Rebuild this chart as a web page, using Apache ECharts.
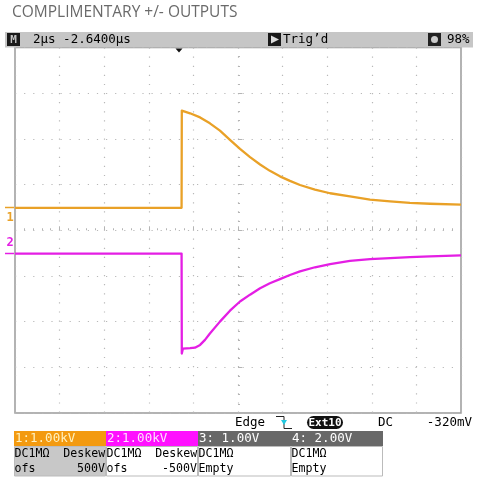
<!DOCTYPE html>
<html><head><meta charset="utf-8">
<script src="https://cdn.jsdelivr.net/npm/echarts@6/dist/echarts.min.js"></script>
<style>html,body{margin:0;padding:0;background:#fff}#c{width:486px;height:488px}</style>
</head><body><div id="c"></div>
<script>
// time in µs from left edge of screen (10 div x 2 µs), voltage in kV (1 kV/div)
const ch1Times = [0, 7.47, 7.48, 7.53, 7.85, 8.30, 8.74, 9.19, 9.64, 10.09, 10.54, 10.99, 11.43, 11.88, 12.33, 12.78, 13.45, 14.13, 15.02, 15.92, 16.82, 17.71, 18.61, 20];
const ch1Values = [0.49, 0.49, 2.62, 2.59, 2.56, 2.47, 2.34, 2.18, 1.98, 1.78, 1.60, 1.44, 1.30, 1.18, 1.08, 0.99, 0.89, 0.81, 0.74, 0.67, 0.63, 0.60, 0.58, 0.56];
const ch2Times = [0, 7.47, 7.48, 7.53, 7.85, 8.07, 8.30, 8.52, 8.74, 9.19, 9.64, 10.09, 10.54, 10.99, 11.43, 11.88, 12.33, 12.78, 13.45, 14.13, 15.02, 15.92, 16.82, 17.71, 18.61, 20];
const ch2Values = [-0.51, -0.51, -2.70, -2.59, -2.58, -2.57, -2.51, -2.40, -2.26, -2.00, -1.76, -1.56, -1.41, -1.27, -1.16, -1.07, -0.98, -0.90, -0.81, -0.74, -0.67, -0.63, -0.61, -0.59, -0.57, -0.55];

const title = 'COMPLIMENTARY +/- OUTPUTS';
const statusText = ['2µs -2.6400µs', 'Trig\u2019d', '98%'];
const trigText = ['Edge', 'Ext10', 'DC', '-320mV'];
const chHeaders = ['1:1.00kV', '2:1.00kV', '3: 1.00V', '4: 2.00V'];
const chRow2 = ['DC1MΩ  Deskew', 'DC1MΩ  Deskew', 'DC1MΩ', 'DC1MΩ'];
const chRow3Left = ['ofs', 'ofs', 'Empty', 'Empty'];
const chRow3Right = ['500V', '-500V', '', ''];

const ORANGE = '#e9a127';
const MAGENTA = '#e41ee4';
const MONO = '"DejaVu Sans Mono", "Liberation Mono", monospace';

const pair = (t, v) => t.map((x, i) => [x, v[i]]);

const chart = echarts.init(document.getElementById('c'), null, {renderer: 'canvas'});

const graphics = [];
// title
graphics.push({type: 'text', left: 12, top: 5, style: {text: title, font: '15.5px "Open Sans", sans-serif', fill: '#6a6a6a'}});
// status bar
graphics.push({type: 'rect', shape: {x: 5, y: 32, width: 468, height: 15.5}, style: {fill: '#c6c6c6'}, z: 0});
graphics.push({type: 'rect', shape: {x: 7, y: 33, width: 13, height: 13}, style: {fill: '#1a1a1a'}});
graphics.push({type: 'text', x: 13.5, y: 40, style: {text: 'M', font: 'bold 11px ' + MONO, fill: '#c4c4c4', align: 'center', verticalAlign: 'middle'}});
graphics.push({type: 'text', x: 33, y: 40, style: {text: statusText[0], font: '12.5px ' + MONO, fill: '#000', verticalAlign: 'middle'}});
graphics.push({type: 'rect', shape: {x: 268, y: 33, width: 13, height: 13}, style: {fill: '#1a1a1a'}});
graphics.push({type: 'polygon', shape: {points: [[271, 35.5], [271, 43.5], [279, 39.5]]}, style: {fill: '#ddd'}});
graphics.push({type: 'text', x: 283, y: 40, style: {text: statusText[1], font: '12.5px ' + MONO, fill: '#000', verticalAlign: 'middle'}});
graphics.push({type: 'rect', shape: {x: 428, y: 33, width: 13, height: 13}, style: {fill: '#222'}});
graphics.push({type: 'circle', shape: {cx: 434.5, cy: 39.5, r: 3.5}, style: {fill: '#ccc'}});
graphics.push({type: 'text', x: 447, y: 40, style: {text: statusText[2], font: '12.5px ' + MONO, fill: '#000', verticalAlign: 'middle'}});
// trigger position marker
graphics.push({type: 'polygon', shape: {points: [[175.5, 48.5], [182.5, 48.5], [179, 52.5]]}, style: {fill: '#111'}});
// ground markers
graphics.push({type: 'line', shape: {x1: 5, y1: 207.5, x2: 14, y2: 207.5}, style: {stroke: ORANGE, lineWidth: 1.5}});
graphics.push({type: 'text', x: 10, y: 218, style: {text: '1', font: 'bold 12px ' + MONO, fill: ORANGE, align: 'center', verticalAlign: 'middle'}});
graphics.push({type: 'line', shape: {x1: 5, y1: 253.5, x2: 14, y2: 253.5}, style: {stroke: MAGENTA, lineWidth: 1.5}});
graphics.push({type: 'text', x: 10, y: 243, style: {text: '2', font: 'bold 12px ' + MONO, fill: MAGENTA, align: 'center', verticalAlign: 'middle'}});
// trigger line
graphics.push({type: 'text', x: 235, y: 423, style: {text: trigText[0], font: '12.5px ' + MONO, fill: '#000', verticalAlign: 'middle'}});
graphics.push({type: 'polyline', shape: {points: [[276, 416.5], [284, 416.5], [284, 428.5], [292, 428.5]]}, style: {stroke: '#222', lineWidth: 1}});
graphics.push({type: 'polygon', shape: {points: [[281, 420], [287, 420], [284, 425]]}, style: {fill: '#22c8e0'}});
graphics.push({type: 'rect', shape: {x: 307, y: 416, width: 36, height: 13, r: 6.5}, style: {fill: '#111'}});
graphics.push({type: 'text', x: 325, y: 423, style: {text: trigText[1], font: 'bold 11px ' + MONO, fill: '#fff', align: 'center', verticalAlign: 'middle'}});
graphics.push({type: 'text', x: 378, y: 423, style: {text: trigText[2], font: '12.5px ' + MONO, fill: '#000', verticalAlign: 'middle'}});
graphics.push({type: 'text', x: 472, y: 423, style: {text: trigText[3], font: '12.5px ' + MONO, fill: '#000', align: 'right', verticalAlign: 'middle'}});
// channel table
const colX = [14, 106, 198, 291, 383];
const headBg = ['#f39a10', '#ff10ff', '#686868', '#686868'];
const headFg = ['#fff2c0', '#ffe0ff', '#ffffff', '#ffffff'];
for (let i = 0; i < 4; i++) {
  const x0 = colX[i], w = colX[i + 1] - colX[i];
  graphics.push({type: 'rect', shape: {x: x0, y: 431, width: w, height: 15}, style: {fill: headBg[i]}});
  graphics.push({type: 'rect', shape: {x: x0 + 0.5, y: 446.5, width: w - 1, height: 29.5}, style: {fill: i === 0 ? '#c8c8c8' : '#fff', stroke: '#bbb', lineWidth: 1}});
  graphics.push({type: 'text', x: x0 + 1, y: 438.5, style: {text: chHeaders[i], font: '12.5px ' + MONO, fill: headFg[i], verticalAlign: 'middle'}});
  graphics.push({type: 'text', x: x0 + 0.5, y: 453.5, style: {text: chRow2[i], font: '11.6px ' + MONO, fill: '#000', verticalAlign: 'middle'}});
  graphics.push({type: 'text', x: x0 + 0.5, y: 468.5, style: {text: chRow3Left[i], font: '11.6px ' + MONO, fill: '#000', verticalAlign: 'middle'}});
  if (chRow3Right[i]) graphics.push({type: 'text', x: colX[i + 1] - 1, y: 468.5, style: {text: chRow3Right[i], font: '11.6px ' + MONO, fill: '#000', align: 'right', verticalAlign: 'middle'}});
}

const option = {
  animation: false,
  backgroundColor: '#fff',
  grid: {left: 15, top: 47.5, right: 25, bottom: 75, show: true, borderColor: '#9a9a9a', borderWidth: 1.5, backgroundColor: 'transparent'},
  xAxis: [{
    type: 'value', min: 0, max: 20, interval: 2,
    axisLine: {show: false}, axisTick: {show: false}, axisLabel: {show: false},
    splitLine: {show: true, lineStyle: {color: '#b8b8b8', width: 1.2, type: [1.2, 7.9]}}
  }, {
    type: 'value', min: 0, max: 20, interval: 2, position: 'bottom', offset: -182.75,
    axisLine: {show: false}, axisLabel: {show: false},
    axisTick: {show: true, inside: true, length: 4, lineStyle: {color: '#b4b4b4'}},
    minorTick: {show: true, splitNumber: 5, length: 2, lineStyle: {color: '#b4b4b4'}},
    splitLine: {show: false}
  }],
  yAxis: [{
    type: 'value', min: -4, max: 4, interval: 1,
    axisLine: {show: false}, axisTick: {show: false}, axisLabel: {show: false},
    splitLine: {show: true, lineStyle: {color: '#b8b8b8', width: 1.2, type: [1.2, 7.9]}}
  }, {
    type: 'value', min: -4, max: 4, interval: 1, position: 'left', offset: -223,
    axisLine: {show: false}, axisLabel: {show: false},
    axisTick: {show: true, inside: true, length: 4, lineStyle: {color: '#b4b4b4'}},
    minorTick: {show: true, splitNumber: 5, length: 2, lineStyle: {color: '#b4b4b4'}},
    splitLine: {show: false}
  }],
  series: [
    {type: 'line', name: 'CH1', data: pair(ch1Times, ch1Values), showSymbol: false, symbol: 'none', smooth: false,
     lineStyle: {color: ORANGE, width: 2.3, join: 'round'}, z: 3},
    {type: 'line', name: 'CH2', data: pair(ch2Times, ch2Values), showSymbol: false, symbol: 'none', smooth: false,
     lineStyle: {color: MAGENTA, width: 2.3, join: 'round'}, z: 3}
  ],
  graphic: graphics
};
chart.setOption(option);
</script></body></html>
